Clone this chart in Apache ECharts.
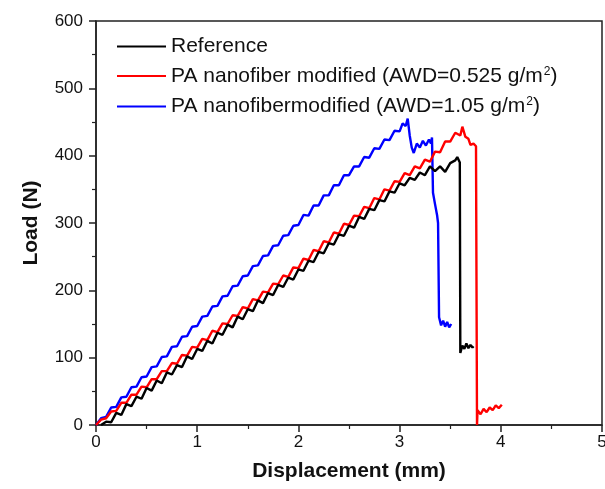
<!DOCTYPE html>
<html>
<head>
<meta charset="utf-8">
<script src="https://cdn.jsdelivr.net/npm/echarts@6/dist/echarts.min.js"></script>
<style>
html,body{margin:0;padding:0;background:#fff;}
#chart{width:605px;height:489px;}
</style>
</head>
<body>
<div id="chart"></div>
<script>
// Tick labels
const xTicks = [0, 1, 2, 3, 4, 5];
const yTicks = [0, 100, 200, 300, 400, 500, 600];

// Series names
const seriesNames = [
  'Reference',
  'PA nanofiber modified (AWD=0.525 g/m2)',
  'PA nanofibermodified (AWD=1.05 g/m2)'
];

// Reference (black)
const refX = [0.05,0.10,0.15,0.20,0.25,0.30,0.35,0.40,0.45,0.50,0.55,0.60,0.65,0.70,0.75,0.80,0.85,0.90,0.95,1.00,
  1.05,1.10,1.15,1.20,1.25,1.30,1.35,1.40,1.45,1.50,1.55,1.60,1.65,1.70,1.75,1.80,1.85,1.90,1.95,2.00,
  2.05,2.10,2.15,2.20,2.25,2.30,2.35,2.40,2.45,2.50,2.55,2.60,2.65,2.70,2.75,2.80,2.85,2.90,2.95,3.00,
  3.05,3.10,3.15,3.20,3.25,3.30,3.35,3.40,3.45,3.50,3.55,3.57,3.595,3.60,3.62,3.64,3.66,3.68,3.70,3.72,3.73];
const refY = [0,5,4,18,15,31,28,42,39,55,51,66,62,78,75,89,86,102,98,113,
  110,125,121,137,134,149,145,161,157,172,169,185,181,196,193,208,205,219,216,231,
  229,244,242,257,255,270,268,283,281,296,293,309,306,321,319,334,332,347,345,359,
  356,367,364,375,371,384,377,384,376,389,393,398,390,107,118,113,121,114,119,115,117];

// PA nanofiber modified, AWD=0.525 (red)
const redX = [0.00,0.05,0.10,0.15,0.20,0.25,0.30,0.35,0.40,0.45,0.50,0.55,0.60,0.65,0.70,0.75,0.80,0.85,0.90,0.95,1.00,
  1.05,1.10,1.15,1.20,1.25,1.30,1.35,1.40,1.45,1.50,1.55,1.60,1.65,1.70,1.75,1.80,1.85,1.90,1.95,2.00,
  2.05,2.10,2.15,2.20,2.25,2.30,2.35,2.40,2.45,2.50,2.55,2.60,2.65,2.70,2.75,2.80,2.85,2.90,2.95,3.00,
  3.05,3.10,3.15,3.20,3.25,3.30,3.35,3.40,3.45,3.50,3.55,3.60,3.62,3.65,3.68,3.70,3.73,3.755,3.765,
  3.77,3.80,3.83,3.86,3.89,3.92,3.95,3.98,4.01];
const redY = [0,8,10,20,21,33,33,45,45,57,56,68,68,80,80,92,91,104,103,116,115,
  128,126,140,138,151,150,163,162,175,173,187,185,198,197,210,209,222,220,234,233,
  247,245,260,258,273,271,286,284,299,297,311,310,324,322,337,335,350,348,362,361,
  374,371,384,381,394,391,406,405,421,421,434,430,443,428,425,416,418,414,0,
  22,16,24,19,26,22,29,25,30];

// PA nanofiber modified, AWD=1.05 (blue)
const blueX = [0.00,0.05,0.10,0.15,0.20,0.25,0.30,0.35,0.40,0.45,0.50,0.55,0.60,0.65,0.70,0.75,0.80,0.85,0.90,0.95,1.00,
  1.05,1.10,1.15,1.20,1.25,1.30,1.35,1.40,1.45,1.50,1.55,1.60,1.65,1.70,1.75,1.80,1.85,1.90,1.95,2.00,
  2.05,2.10,2.15,2.20,2.25,2.30,2.35,2.40,2.45,2.50,2.55,2.60,2.65,2.70,2.75,2.80,2.85,2.90,2.95,3.00,
  3.03,3.06,3.08,3.10,3.12,3.14,3.17,3.20,3.23,3.26,3.29,3.31,3.32,3.33,3.35,3.37,3.38,3.39,
  3.41,3.43,3.45,3.47,3.49,3.51];
const blueY = [0,10,12,26,27,41,42,56,57,71,72,86,87,101,102,116,117,131,132,146,147,
  161,162,176,177,191,192,206,207,221,222,236,237,251,252,266,267,281,282,296,297,
  312,311,326,326,341,341,356,356,371,371,384,384,398,397,411,410,424,423,437,436,
  448,444,455,430,412,404,418,412,422,415,424,418,427,345,328,312,300,160,
  148,155,146,153,145,150];

const colors = ['#000000', '#ff0000', '#0000ff'];

function pairs(xs, ys) { return xs.map((x, i) => [x, ys[i]]); }

const chart = echarts.init(document.getElementById('chart'), null, {renderer: 'canvas'});

const FONT = '"Liberation Sans", Arial, sans-serif';

const legendFormat = {
  'Reference': '{a|Reference}',
  'PA nanofiber modified (AWD=0.525 g/m2)': '{a|PA nanofiber modified (AWD=0.525 g/m}{s|2}{a|)}',
  'PA nanofibermodified (AWD=1.05 g/m2)': '{a|PA nanofibermodified (AWD=1.05 g/m}{s|2}{a|)}'
};

const axisCommon = {
  axisLine: {show: true, onZero: false, lineStyle: {color: '#222', width: 1.5}},
  axisTick: {show: true, inside: false, length: 7, lineStyle: {color: '#222', width: 1.5}},
  minorTick: {show: true, splitNumber: 2, length: 4, lineStyle: {color: '#222', width: 1.2}},
  splitLine: {show: false},
  minorSplitLine: {show: false}
};

chart.setOption({
  animation: false,
  backgroundColor: '#fff',
  grid: {left: 96, right: 3, top: 21, bottom: 64, show: true, borderColor: '#222', borderWidth: 1.5,
         backgroundColor: 'transparent', containLabel: false, outerBoundsMode: 'none'},
  legend: {
    orient: 'vertical',
    left: 112,
    top: 31,
    icon: 'rect',
    itemWidth: 49,
    itemHeight: 2,
    itemGap: 8.5,
    data: seriesNames,
    formatter: n => legendFormat[n],
    textStyle: {
      fontFamily: FONT,
      rich: {
        a: {fontSize: 21, fontFamily: FONT, color: '#111', lineHeight: 21},
        s: {fontSize: 12, fontFamily: FONT, color: '#111', verticalAlign: 'top', lineHeight: 21, padding: [0, 0, 10, 1]}
      }
    }
  },
  xAxis: Object.assign({
    type: 'value',
    min: xTicks[0],
    max: xTicks[xTicks.length - 1],
    interval: 1,
    name: 'Displacement (mm)',
    nameLocation: 'middle',
    nameGap: 36,
    nameTextStyle: {fontFamily: FONT, fontSize: 21, fontWeight: 'bold', color: '#111'},
    axisLabel: {fontFamily: FONT, fontSize: 17, color: '#111', margin: 9, showMaxLabel: true}
  }, axisCommon),
  yAxis: Object.assign({
    type: 'value',
    min: yTicks[0],
    max: yTicks[yTicks.length - 1],
    interval: 100,
    name: 'Load (N)',
    nameLocation: 'middle',
    nameGap: 54,
    nameTextStyle: {fontFamily: FONT, fontSize: 21, fontWeight: 'bold', color: '#111'},
    axisLabel: {fontFamily: FONT, fontSize: 17, color: '#111', margin: 13}
  }, axisCommon),
  series: [
    {name: seriesNames[0], type: 'line', data: pairs(refX, refY), showSymbol: false, symbol: 'none', color: colors[0], lineStyle: {width: 2.4, color: colors[0]}, z: 3},
    {name: seriesNames[1], type: 'line', data: pairs(redX, redY), showSymbol: false, symbol: 'none', color: colors[1], lineStyle: {width: 2.4, color: colors[1]}, z: 2},
    {name: seriesNames[2], type: 'line', data: pairs(blueX, blueY), showSymbol: false, symbol: 'none', color: colors[2], lineStyle: {width: 2.4, color: colors[2]}, z: 1}
  ]
});
</script>
</body>
</html>
